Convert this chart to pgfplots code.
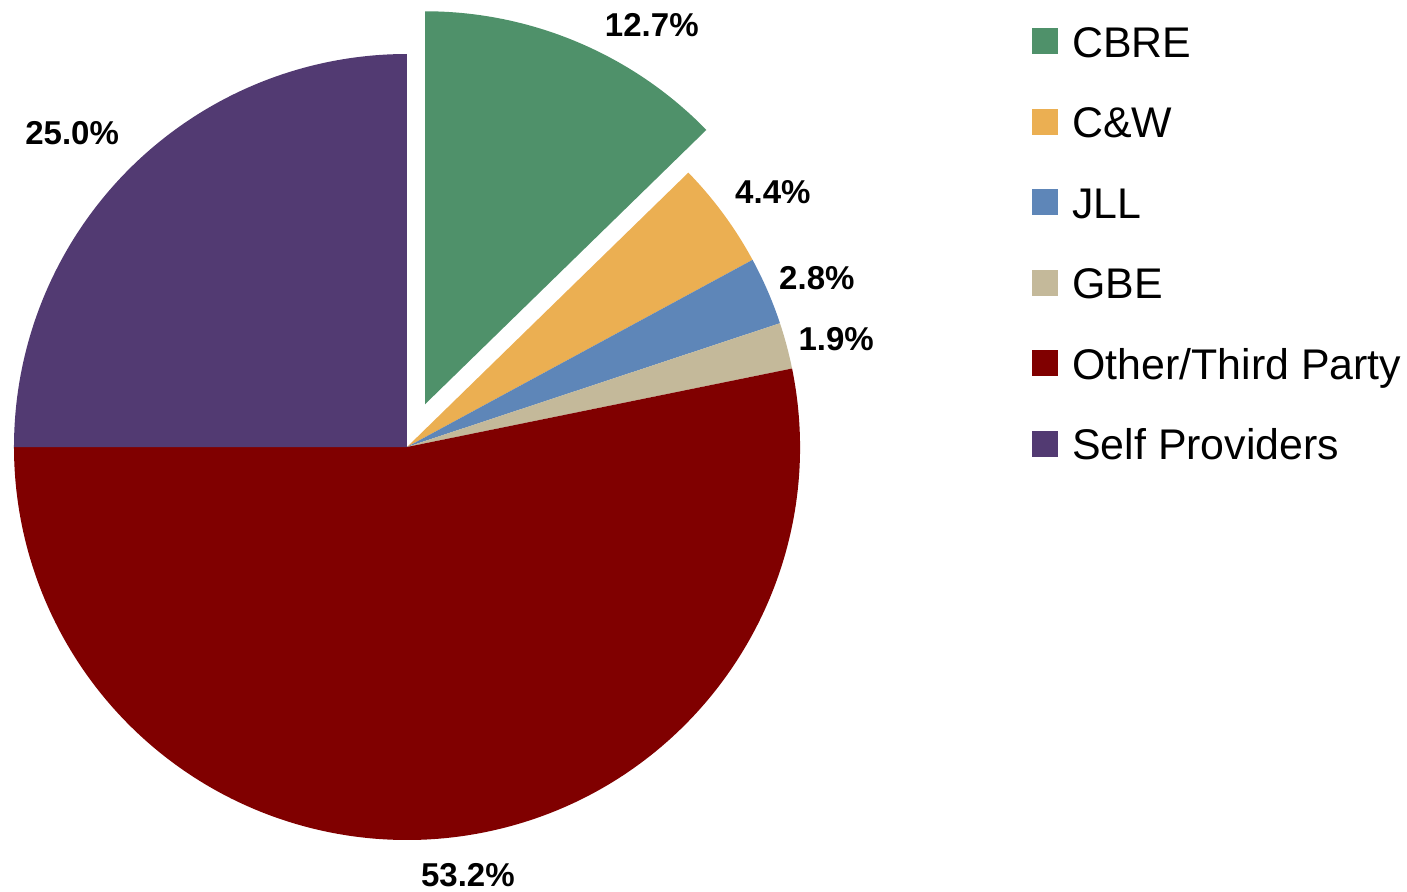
\documentclass[border=0pt]{standalone}
\usepackage{fontspec}
\setmainfont{Liberation Sans}
\usepackage{pgfplots}
\usepackage{pgfplotstable}
\pgfplotsset{compat=1.18}
\definecolor{slice0}{RGB}{79,145,106}
\definecolor{slice1}{RGB}{235,175,82}
\definecolor{slice2}{RGB}{94,134,184}
\definecolor{slice3}{RGB}{196,185,154}
\definecolor{slice4}{RGB}{128,0,0}
\definecolor{slice5}{RGB}{82,58,114}
% value = share in percent; explode = offset of slice (radius units); lx ly = label centre
\pgfplotstableread{
value explode lx ly
12.7 0.118 0.623 1.074
4.4 0 0.931 0.651
2.8 0 1.043 0.430
1.9 0 1.092 0.277
53.2 0 0.155 -1.089
25.0 0 -0.852 0.799
}\piedata
\begin{document}
\begin{tikzpicture}
\begin{axis}[name=ax, hide axis, disabledatascaling, x=3.93cm, y=3.93cm,
  xmin=-1.0356, xmax=2.5445, ymin=-1.1298, ymax=1.1374, clip=false,
  legend cell align=left,
  legend style={at={(0.7257,0.9798)}, anchor=north west, draw=none, fill=none,
    font=\fontsize{12.2pt}{15pt}\selectfont, row sep=10.9pt, column sep=4pt,
    nodes={inner sep=0pt, text height=9pt, text depth=3pt}},
  legend image code/.code={\fill[#1, draw=none] (0pt,-2.1pt) rectangle (7.4pt,5.3pt);}]
\addlegendimage{fill=slice0, draw=none}\addlegendentry{CBRE}
\addlegendimage{fill=slice1, draw=none}\addlegendentry{C\&W}
\addlegendimage{fill=slice2, draw=none}\addlegendentry{JLL}
\addlegendimage{fill=slice3, draw=none}\addlegendentry{GBE}
\addlegendimage{fill=slice4, draw=none}\addlegendentry{Other/Third Party}
\addlegendimage{fill=slice5, draw=none}\addlegendentry{Self Providers}
\pgfplotsextra{
  \xdef\cur{90}
  \pgfplotsforeachungrouped \i in {0,...,5}{
    \pgfplotstablegetelem{\i}{value}\of\piedata \let\val\pgfplotsretval
    \pgfplotstablegetelem{\i}{explode}\of\piedata \let\ex\pgfplotsretval
    \pgfplotstablegetelem{\i}{lx}\of\piedata \let\lx\pgfplotsretval
    \pgfplotstablegetelem{\i}{ly}\of\piedata \let\ly\pgfplotsretval
    \pgfmathsetmacro\endang{\cur-3.6*\val}
    \pgfmathsetmacro\midang{(\cur+\endang)/2}
    \pgfmathsetmacro\dx{\ex*cos(\midang)}
    \pgfmathsetmacro\dy{\ex*sin(\midang)}
    \pgfmathsetmacro\sx{\dx+cos(\cur)}
    \pgfmathsetmacro\sy{\dy+sin(\cur)}
    \fill[slice\i] (axis cs:\dx,\dy) -- (axis cs:\sx,\sy) arc[start angle=\cur, end angle=\endang, radius=3.93cm] -- cycle;
    \node[font=\bfseries\fontsize{9.4pt}{11pt}\selectfont, anchor=center, inner sep=0pt, text height=6.8pt, text depth=0pt] at (axis cs:\lx,\ly) {\val\%};
    \xdef\cur{\endang}
  }
}
\end{axis}
\pgfresetboundingbox
\path (ax.south west) rectangle (ax.north east);
\end{tikzpicture}
\end{document}
